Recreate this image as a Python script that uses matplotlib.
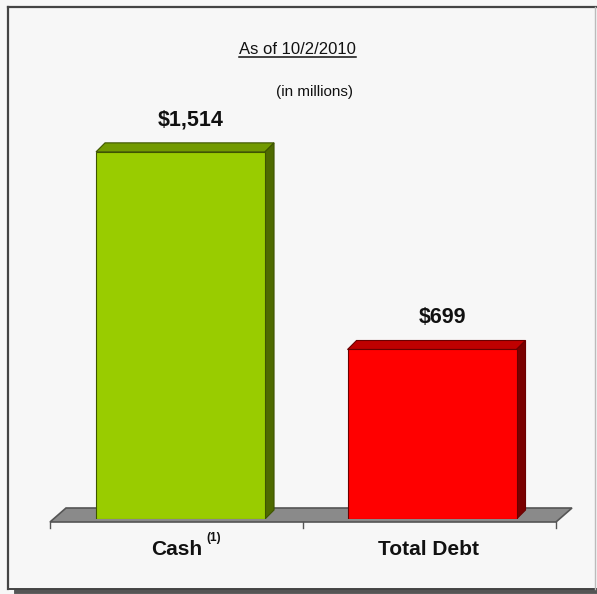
import matplotlib
matplotlib.use("Agg")
import matplotlib.pyplot as plt
from matplotlib.patches import Polygon
from matplotlib.lines import Line2D

# Cash and debt, as of 10/2/2010 (in millions)
categories = ["Cash", "Total Debt"]
values = [1514, 699]
value_labels = ["$1,514", "$699"]
front_colors = ["#99cc00", "#ff0000"]
top_colors = ["#729a00", "#bf0000"]
side_colors = ["#4e6a00", "#7a0000"]
edge_colors = ["#3e5500", "#6a0000"]

W, H = 597, 594
plt.rcParams["font.family"] = ["Liberation Sans", "DejaVu Sans"]
fig = plt.figure(figsize=(W / 100, H / 100), dpi=100, facecolor="#f7f7f7")

# plot area: y=0 sits at pixel row 519, floor spans x 50..556
ax = fig.add_axes([50 / W, (H - 519) / H, 506 / W, 388 / H])
ax.set_xlim(-0.519, 1.493)
ax.set_ylim(0, 1600)
ax.set_axis_off()
ax.patch.set_alpha(0)


def shift(x, y, dxp, dyp):
    # move a data point by some pixels
    px, py = ax.transData.transform((x, y))
    return tuple(ax.transData.inverted().transform((px + dxp, py + dyp)))


x0, x1 = ax.get_xlim()

# gray floor
floor = [shift(x0, 0, 0, -3), shift(x1, 0, 0, -3), shift(x1, 0, 16, 11), shift(x0, 0, 16, 11)]
ax.add_patch(Polygon(floor, closed=True, facecolor="#8a8a8a", edgecolor="#555555", lw=1.2,
                     zorder=1, clip_on=False))
for xt, dx in [(x0, 0), (0.5, -3), (x1, 0)]:
    a = shift(xt, 0, dx, -3)
    b = shift(xt, 0, dx, -9)
    ax.plot([a[0], b[0]], [a[1], b[1]], color="#555555", lw=1, zorder=1, clip_on=False)

# bars with 3D look
width = 0.672
depth = 9
xs = range(len(categories))
ax.bar(xs, values, width=width, color=front_colors, edgecolor=edge_colors, lw=0.8, zorder=3)
for i, v in enumerate(values):
    l, r = i - width / 2, i + width / 2
    top = [(l, v), (r, v), shift(r, v, depth, depth), shift(l, v, depth, depth)]
    side = [(r, 0), (r, v), shift(r, v, depth, depth), shift(r, 0, depth, depth)]
    ax.add_patch(Polygon(top, closed=True, facecolor=top_colors[i], edgecolor=edge_colors[i], lw=0.8, zorder=2))
    ax.add_patch(Polygon(side, closed=True, facecolor=side_colors[i], edgecolor=edge_colors[i], lw=0.8, zorder=2))
    tx, ty = shift(i, v, depth + 1, depth + 17)
    ax.text(tx, ty, value_labels[i], ha="center", va="baseline", fontsize=15.5,
            fontweight="bold", color="#111111")
    lx, ly = shift(i, 0, -4, -36)
    ax.text(lx, ly, categories[i], ha="center", va="baseline", fontsize=15,
            fontweight="bold", color="#111111")
    if i == 0:
        fig.text(214 / W, 1 - 541 / H, "(1)", ha="center", va="baseline", fontsize=8.5,
                 fontweight="bold", color="#111111")

# title, underlined
t = fig.text(297.5 / W, 1 - 54 / H, "As of 10/2/2010", ha="center", va="baseline",
             fontsize=12, color="#111111")
fig.canvas.draw()
bb = t.get_window_extent().transformed(fig.transFigure.inverted())
uy = 1 - 56.5 / H
fig.add_artist(Line2D([bb.x0, bb.x1], [uy, uy], color="#111111", lw=1.1))
fig.text(314 / W, 1 - 96 / H, "(in millions)", ha="center", va="baseline",
         fontsize=11, color="#111111")

# frame with shadow
def fl(xa, ya, xb, yb, c, lw):
    fig.add_artist(Line2D([xa / W, xb / W], [1 - ya / H, 1 - yb / H], color=c, lw=lw))


fl(16, 591, 597, 591, "#555555", 3.5)
fl(8, 7, 597, 7, "#444444", 1.6)
fl(8, 7, 8, 589, "#444444", 1.6)
fl(8, 589, 597, 589, "#444444", 1.4)
fl(595, 7, 595, 589, "#bbbbbb", 1.0)

fig.savefig("out.png", dpi=100, facecolor=fig.get_facecolor())
